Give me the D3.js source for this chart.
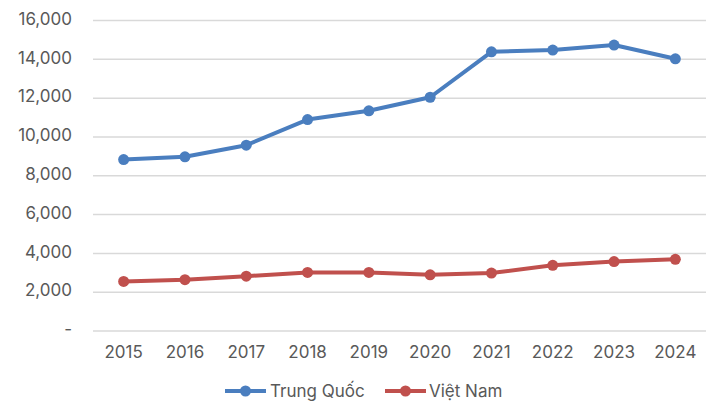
<!DOCTYPE html>
<html>
<head>
<meta charset="utf-8">
<script src="https://cdn.jsdelivr.net/npm/d3@7/dist/d3.min.js"></script>
<style>
  html, body { margin: 0; padding: 0; background: #fff; }
  svg text { font-family: Inter, Roboto, "Noto Sans", Arial, sans-serif; fill: #595959; }
</style>
</head>
<body>
<svg id="chart" width="716" height="403"></svg>
<script>
const years = ["2015", "2016", "2017", "2018", "2019", "2020", "2021", "2022", "2023", "2024"];
const trungQuoc = [8810, 8950, 9550, 10870, 11320, 12020, 14360, 14450, 14710, 14000];
const vietNam = [2530, 2620, 2800, 2990, 2990, 2870, 2960, 3360, 3550, 3670];
const yTicks = [0, 2000, 4000, 6000, 8000, 10000, 12000, 14000, 16000];
const seriesNames = ["Trung Quốc", "Việt Nam"];
const seriesColors = ["#4a7ebf", "#c0504d"];

const svg = d3.select("#chart");
const margin = { left: 93, right: 10, top: 20, bottom: 72 };
const width = 716, height = 403;

const x = d3.scaleBand().domain(years).range([margin.left, width - margin.right]);
const y = d3.scaleLinear().domain([0, 16000]).range([330.5, 20]);

const fmt = v => v === 0 ? "-" : d3.format(",")(v);

// horizontal gridlines with value labels
const yAxis = d3.axisLeft(y).tickValues(yTicks).tickFormat(fmt)
  .tickSize(-(width - margin.right - margin.left)).tickPadding(21);
const gy = svg.append("g").attr("transform", `translate(${margin.left},0)`).call(yAxis);
gy.select(".domain").remove();
gy.selectAll(".tick line").attr("stroke", "#d9d9d9").attr("stroke-width", 1.5);
gy.selectAll(".tick text").attr("font-size", 17).attr("fill", "#595959").attr("dy", "0.25em");

// year labels
const xAxis = d3.axisBottom(x).tickSize(0).tickPadding(0);
const gx = svg.append("g").attr("transform", "translate(0,341)").call(xAxis);
gx.select(".domain").remove();
gx.selectAll(".tick text").attr("font-size", 17).attr("fill", "#595959").attr("dy", "1em");

const line = d3.line().x((d, i) => x(years[i]) + x.bandwidth() / 2).y(d => y(d));

[trungQuoc, vietNam].forEach((vals, k) => {
  svg.append("path").datum(vals)
    .attr("fill", "none").attr("stroke", seriesColors[k])
    .attr("stroke-width", 4).attr("stroke-linejoin", "round")
    .attr("d", line);
  svg.append("g").selectAll("circle").data(vals).join("circle")
    .attr("cx", (d, i) => x(years[i]) + x.bandwidth() / 2)
    .attr("cy", d => y(d))
    .attr("r", 5.5)
    .attr("fill", seriesColors[k]);
});

// legend
const legendItems = [{ x: 225, tx: 270 }, { x: 385, tx: 429 }];
legendItems.forEach((p, k) => {
  const g = svg.append("g").attr("transform", "translate(0,391)");
  g.append("line").attr("x1", p.x).attr("x2", p.x + 41).attr("y1", 0).attr("y2", 0)
    .attr("stroke", seriesColors[k]).attr("stroke-width", 4);
  g.append("circle").attr("cx", p.x + 20.5).attr("cy", 0).attr("r", 5.5).attr("fill", seriesColors[k]);
  g.append("text").attr("x", p.tx).attr("y", 0).attr("dy", "0.35em")
    .attr("font-size", 17).text(seriesNames[k]);
});
</script>
</body>
</html>
